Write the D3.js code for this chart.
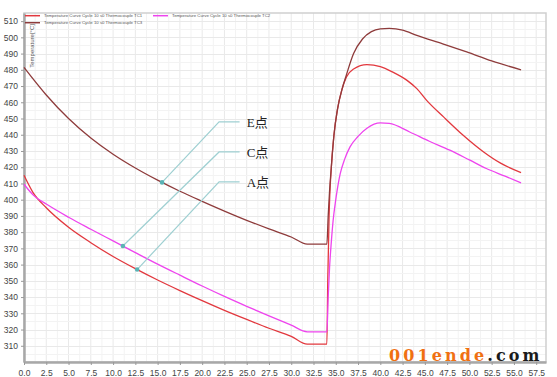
<!DOCTYPE html>
<html><head><meta charset="utf-8">
<script src="https://cdn.jsdelivr.net/npm/d3@7"></script>
<style>body{margin:0;background:#fff}svg{display:block}</style>
</head><body>
<svg id="c" width="557" height="377"></svg>
<script>
// ---- data ----
const seriesNames = ["Temperature Curve Cycle 10 s0 Thermocouple TC1","Temperature Curve Cycle 10 s0 Thermocouple TC2","Temperature Curve Cycle 10 s0 Thermocouple TC3"];
const seriesColors = ["#e2383e","#ee44ee","#8e3b3b"];
const tRed = [0,1,2.5,5,7.5,10,12.5,15,17.5,20,22.5,25,27.5,30,31.8,34.0,34.1,34.25,34.5,34.8,35.2,35.7,36.2,37,38.5,40,41.4,43,44.1,45.2,47.1,49.3,51.6,53.5,55.8];
const vRed = [415,404.5,395,383,373.5,365,357.5,350.5,344,337.8,331.8,326.2,320.8,315.8,311,311,350,390,420,440,456,468,475.6,480.5,483.2,482,478.6,473.5,468.4,461.2,451,439.7,429.4,422.5,416.7];
const tMag = [0,1.1,2.5,5,7.5,10,12.5,15,17.5,20,22.5,25,27.5,30,31.8,34.0,34.15,34.3,34.5,34.7,35,35.5,36,36.6,37.5,38.5,40,41,43.3,45.5,47.8,50,51.9,54,55.8];
const vMag = [409.5,402.5,397.3,389.2,381.8,374.6,367.4,360.3,353.5,346.8,340.4,334.3,328.4,322.7,318.6,318.6,340,358,374,387,400,416,425,432.5,439,444,447.3,447,441.7,436,430.5,424.5,419.2,414.5,410.3];
const tBrn = [0,2.5,5,7.5,10,12.5,15,17.5,20,22.5,25,27.5,30,31.8,34.0,34.15,34.3,34.5,34.8,35.2,35.7,36.2,37,38,39,40,41,42.5,44.1,47,49.7,52.5,55.8];
const vBrn = [481.5,464.5,450,438,428,419.5,412,405.2,399,393,387.3,382,377,372.6,372.6,390,405,420,440,456,468,477,490,499,503.5,505.2,505.5,504.5,501.2,496,491,485.5,480];
const xTicks = d3.range(0, 57.51, 2.5);
const yTicks = d3.range(310, 510.1, 10);
const yTitle = "Temperature[°C]";
// annotations: label, series index, x of point, label anchor (t,v)
const annLabels = ["E点","C点","A点"];
const annSeries = [2,1,0];
const annT = [15.5,11.1,12.7];
const annKneeV = [447.9,429.4,411];
const annKneeT = 21.9, annEndT = 24.2, annTextT = 25.0;

// ---- chart ----
const svg = d3.select("#c");
const x = d3.scaleLinear().domain([0,58.6]).range([24,546]);
const y = d3.scaleLinear().domain([300,515]).range([362,13]);
const series = [[tRed,vRed],[tMag,vMag],[tBrn,vBrn]];

// grid
const g = svg.append("g");
g.selectAll(".gx").data(d3.range(0,58.6,1.25)).enter().append("line")
 .attr("x1",d=>x(d)).attr("x2",d=>x(d)).attr("y1",y(515)).attr("y2",y(300))
 .attr("stroke",(d,i)=>i%2===0?"#e9e9e9":"#f3f3f3").attr("stroke-width",1);
g.selectAll(".gy").data(d3.range(305,515,5)).enter().append("line")
 .attr("x1",x(0)).attr("x2",x(58.6)).attr("y1",d=>Math.round(y(d))+0.5).attr("y2",d=>Math.round(y(d))+0.5)
 .attr("stroke",(d,i)=>d%10===0?"#e9e9e9":"#f3f3f3").attr("stroke-width",1);

// frame
svg.append("rect").attr("x",x(0)).attr("y",y(515)).attr("width",x(58.6)-x(0)).attr("height",y(300)-y(515))
 .attr("fill","none").attr("stroke","#cfcfcf").attr("stroke-width",1.5);

// axes
const ax = svg.append("g").attr("transform",`translate(0,${y(300)})`)
 .call(d3.axisBottom(x).tickValues(xTicks).tickFormat(d3.format(".1f")).tickSize(3).tickSizeOuter(0));
const ay = svg.append("g").attr("transform",`translate(${x(0)},0)`)
 .call(d3.axisLeft(y).tickValues(yTicks).tickFormat(d3.format("d")).tickSize(3).tickSizeOuter(0));
[ax,ay].forEach(a=>{
  a.select(".domain").attr("stroke","#a8a8a8").attr("stroke-width",2.5);
  a.selectAll(".tick line").attr("stroke","#999");
  a.selectAll("text").attr("fill","#444").style("font-family","Arial, 'Liberation Sans', sans-serif").style("font-size","8.5px");
});
ax.selectAll("text").attr("dy","0.9em");

// y title
svg.append("text").attr("transform",`translate(31.5,${24}) rotate(-90)`).attr("text-anchor","end")
 .attr("dy","0.35em").attr("fill","#555").style("font-family","Arial, sans-serif").style("font-size","6px").text(yTitle);

// lines
const line = d3.line().x(d=>x(d[0])).y(d=>y(d[1])).curve(d3.curveMonotoneX);
series.forEach((s,i)=>{
  const pts = s[0].map((t,j)=>[t,s[1][j]]);
  svg.append("path").datum(pts).attr("d",line).attr("fill","none")
   .attr("stroke",seriesColors[i]).attr("stroke-width",1.3);
});

// annotations
function valAt(si,t){const s=series[si];const i=d3.bisectRight(s[0],t);const t0=s[0][i-1],t1=s[0][i];const k=(t-t0)/(t1-t0);return s[1][i-1]+k*(s[1][i]-s[1][i-1]);}
annLabels.forEach((lab,i)=>{
  const px=x(annT[i]), py=y(valAt(annSeries[i],annT[i]));
  svg.append("polyline").attr("points",`${px},${py} ${x(annKneeT)},${y(annKneeV[i])} ${x(annEndT)},${y(annKneeV[i])}`)
   .attr("fill","none").attr("stroke","#9fd0d2").attr("stroke-width",1.2);
  svg.append("circle").attr("cx",px).attr("cy",py).attr("r",2.3).attr("fill","#5bb3b5");
  svg.append("text").attr("x",x(annTextT)).attr("y",y(annKneeV[i])).attr("dy","0.38em")
   .attr("fill","#222").style("font-family","'Liberation Serif','Noto Sans CJK SC',serif").style("font-size","13px").text(lab);
});

// legend
const legPos = [[25,15.7],[153,15.7],[25,22.7]];
seriesNames.forEach((n,i)=>{
  const [lx,ly]=legPos[i];
  svg.append("line").attr("x1",lx).attr("x2",lx+15).attr("y1",ly).attr("y2",ly).attr("stroke",seriesColors[i]).attr("stroke-width",1.5);
  svg.append("text").attr("x",lx+19).attr("y",ly).attr("dy","0.35em").attr("fill","#555")
   .style("font-family","Arial, sans-serif").style("font-size","4.3px").text(n);
});

// watermark
const wm = svg.append("text").attr("x",389).attr("y",361).style("font-family","'DejaVu Serif',serif")
 .style("font-weight","bold").style("font-size","16px").attr("letter-spacing","3.1px");
wm.append("tspan").attr("fill","#f07012").text("001ende");
wm.append("tspan").attr("fill","#1a1a1a").text(".com");
</script>
</body></html>
